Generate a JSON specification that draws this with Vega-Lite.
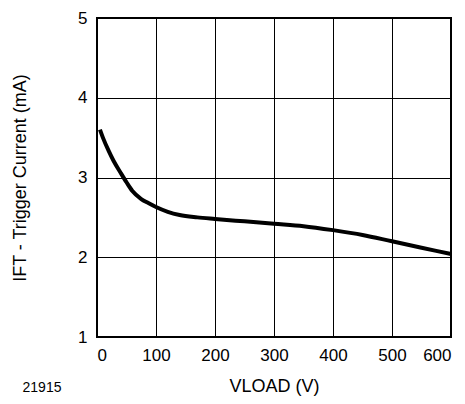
{
  "$schema": "https://vega.github.io/schema/vega-lite/v6.json",
  "width": 354,
  "height": 319,
  "autosize": {"type": "none"},
  "padding": {"left": 97, "top": 18, "right": 14, "bottom": 67},
  "background": "white",
  "title": {
    "text": "21915",
    "orient": "bottom",
    "anchor": "start",
    "frame": "bounds",
    "fontSize": 14,
    "fontWeight": "normal",
    "font": "Liberation Sans",
    "color": "black",
    "offset": 0,
    "dx": 11,
    "dy": -14
  },
  "data": {
    "values": [
      {"v": 5, "i": 3.6},
      {"v": 10, "i": 3.5},
      {"v": 20, "i": 3.33},
      {"v": 28, "i": 3.21},
      {"v": 40, "i": 3.06},
      {"v": 50, "i": 2.94},
      {"v": 60, "i": 2.83},
      {"v": 75, "i": 2.73},
      {"v": 87, "i": 2.68},
      {"v": 100, "i": 2.63},
      {"v": 120, "i": 2.57},
      {"v": 140, "i": 2.53},
      {"v": 170, "i": 2.5},
      {"v": 200, "i": 2.48},
      {"v": 250, "i": 2.45},
      {"v": 300, "i": 2.42},
      {"v": 350, "i": 2.39},
      {"v": 400, "i": 2.34},
      {"v": 450, "i": 2.28},
      {"v": 500, "i": 2.2},
      {"v": 550, "i": 2.12},
      {"v": 600, "i": 2.04}
    ]
  },
  "mark": {"type": "line", "color": "black", "strokeWidth": 4, "interpolate": "monotone"},
  "encoding": {
    "x": {
      "field": "v",
      "type": "quantitative",
      "scale": {"domain": [0, 600], "nice": false},
      "axis": {"values": [0, 100, 200, 300, 400, 500, 600], "titlePadding": 14},
      "title": "VLOAD (V)"
    },
    "y": {
      "field": "i",
      "type": "quantitative",
      "scale": {"domain": [1, 5], "nice": false, "zero": false},
      "axis": {"values": [1, 2, 3, 4, 5], "titlePadding": 48},
      "title": "IFT - Trigger Current (mA)"
    }
  },
  "config": {
    "font": "Liberation Sans",
    "view": {"stroke": "black", "strokeWidth": 2},
    "axis": {
      "domain": false,
      "ticks": false,
      "grid": true,
      "gridColor": "black",
      "gridOpacity": 1,
      "gridWidth": 1,
      "labelFontSize": 17,
      "labelColor": "black",
      "labelPadding": 10,
      "titleFontSize": 18,
      "titleFontWeight": "normal",
      "titleColor": "black"
    }
  }
}
